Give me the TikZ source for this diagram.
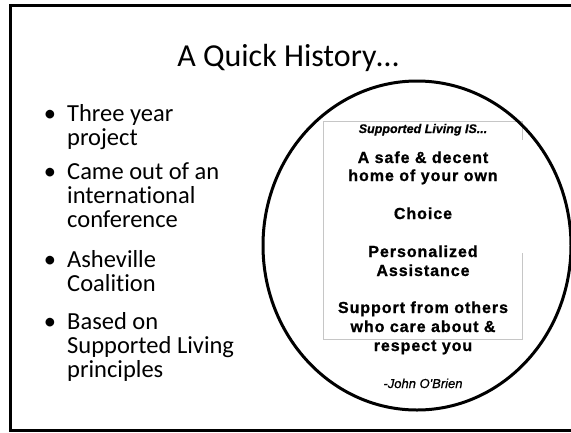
\documentclass[tikz,border=0pt]{standalone}
\usepackage{fontspec}
\setmainfont{Carlito}[Ligatures=NoCommon]
\newfontfamily\arialf{Liberation Sans}[FakeBold=0.6]
\newfontfamily\arialsp{Liberation Sans}[LetterSpace=6,FakeBold=1]
\begin{document}
\begin{tikzpicture}[x=1pt,y=-1pt,
  frame/.style={line width=2.4pt,black},
  txt/.style={inner sep=0pt,anchor=base west,font=\fontsize{24.5}{24.5}\selectfont},
  bul/.style={inner sep=0pt,anchor=base,font=\fontsize{24.5}{24.5}\selectfont},
  ctxt/.style={inner sep=0pt,anchor=base,font=\arialsp\bfseries\fontsize{16}{16}\selectfont},
  faint/.style={gray!45,line width=0.5pt}]
\useasboundingbox (0,0) rectangle (571,432);
\fill[white] (0,0) rectangle (571,432);
% slide frame
\draw[frame] (580,5.5) -- (10.5,5.5) -- (10.5,430.5) -- (580,430.5);
% title
\node[inner sep=0pt,anchor=base,font=\fontsize{32}{32}\selectfont] (title) at (288,66) {A Quick History…};
% bullets
\node[bul] (b1) at (50,121) {•};
\node[txt] (t1a) at (67,121) {Three year};
\node[txt] (t1b) at (67,145) {project};
\node[bul] (b2) at (50,179) {•};
\node[txt] (t2a) at (67,179) {Came out of an};
\node[txt] (t2b) at (67,203) {international};
\node[txt] (t2c) at (67,227) {conference};
\node[bul] (b3) at (50,267) {•};
\node[txt] (t3a) at (67,267) {Asheville};
\node[txt] (t3b) at (67,291) {Coalition};
\node[bul] (b4) at (50,329) {•};
\node[txt] (t4a) at (67,329) {Based on};
\node[txt] (t4b) at (67,353) {Supported Living};
\node[txt] (t4c) at (67,377) {principles};
% faint text box lines
\draw[faint] (323,121) -- (522,121);
\draw[faint] (323,121) -- (323,340);
\draw[faint] (323,339) -- (522,339);
\draw[faint] (522,121) -- (522,140);
\draw[faint] (522,253) -- (522,340);
% circle
\draw[line width=3pt] (417,245.5) ellipse [x radius=154pt, y radius=164.5pt];
% circle text
\node[inner sep=0pt,anchor=base,font=\arialf\bfseries\itshape\fontsize{12.5}{12.5}\selectfont] (c0) at (423,133) {Supported Living IS...};
\node[ctxt] (c1a) at (423,163) {A safe \& decent};
\node[ctxt] (c1b) at (423,181) {home of your own};
\node[ctxt] (c2) at (423,219) {Choice};
\node[ctxt] (c3a) at (423,257) {Personalized};
\node[ctxt] (c3b) at (423,276) {Assistance};
\node[ctxt] (c4a) at (423,313) {Support from others};
\node[ctxt] (c4b) at (423,332) {who care about \&};
\node[ctxt] (c4c) at (423,351) {respect you};
\node[inner sep=0pt,anchor=base,font=\arialf\itshape\fontsize{13}{13}\selectfont] (auth) at (423,388) {-John O'Brien};
\end{tikzpicture}
\end{document}
